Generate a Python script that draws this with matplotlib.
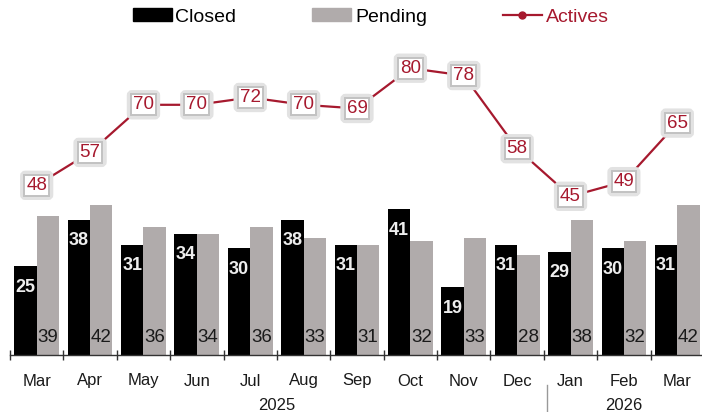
import matplotlib
matplotlib.use("Agg")
import matplotlib.pyplot as plt
from matplotlib.patches import Patch
from matplotlib.lines import Line2D
import numpy as np

plt.rcParams['font.family'] = ['Liberation Sans', 'DejaVu Sans']

months = ["Mar", "Apr", "May", "Jun", "Jul", "Aug", "Sep", "Oct", "Nov", "Dec", "Jan", "Feb", "Mar"]
years = ["2025", "2026"]
year_spans = [(0, 10), (10, 13)]
closed = [25, 38, 31, 34, 30, 38, 31, 41, 19, 31, 29, 30, 31]
pending = [39, 42, 36, 34, 36, 33, 31, 32, 33, 28, 38, 32, 42]
actives = [48, 57, 70, 70, 72, 70, 69, 80, 78, 58, 45, 49, 65]

C_CLOSED = "#000000"
C_PEND = "#B0ABAB"
C_ACT = "#A6192E"

W, H = 702, 412
fig = plt.figure(figsize=(W / 100, H / 100), dpi=100)
ax = fig.add_axes([10 / W, (H - 355) / H, 694 / W, 325 / H])
x = np.arange(len(months))
bw = 0.42
ax.bar(x - bw / 2, closed, bw, color=C_CLOSED, zorder=2)
ax.bar(x + bw / 2, pending, bw, color=C_PEND, zorder=2)
ax.set_xlim(-0.5, len(months) - 0.5)
ax.set_ylim(0, 325 / 3.56)

for i, (c, p) in enumerate(zip(closed, pending)):
    ax.annotate(str(c), (i - bw / 2, c), xytext=(0, -21), textcoords="offset pixels",
                ha="center", va="center", color="#EEEEEE", fontsize=13, fontweight="bold")
    ax.annotate(str(p), (i + bw / 2, 0), xytext=(0, 17), textcoords="offset pixels",
                ha="center", va="center", color="#1a1a1a", fontsize=13.5)

ax2 = ax.twinx()
ymin2 = (361 - 355) / 3.66
ax2.set_ylim(ymin2, ymin2 + 325 / 3.66)
ax2.plot(x, actives, color=C_ACT, lw=1.6, marker="o", ms=5, zorder=3)
for i, a in enumerate(actives):
    ax2.text(i, a, str(a), ha="center", va="center", color="none", fontsize=13.5, zorder=4,
             bbox=dict(boxstyle="round,pad=0.2,rounding_size=0.15", fc="white", ec="#E2E2E2", lw=3.5))
    ax2.text(i, a, str(a), ha="center", va="center", color=C_ACT, fontsize=13.5, zorder=5,
             bbox=dict(boxstyle="square,pad=0.1", fc="white", ec="#C2C2C2", lw=1.4))

for a in (ax, ax2):
    for s in ["top", "right", "left"]:
        a.spines[s].set_visible(False)
    a.set_yticks([])
ax2.spines["bottom"].set_visible(False)
ax.spines["bottom"].set_color("#333333")
ax.spines["bottom"].set_linewidth(1.0)
ax.set_xticks(np.arange(len(months) + 1) - 0.5)
ax.set_xticklabels([])
ax.tick_params(axis="x", direction="inout", length=7, width=1, color="#333333")

tr = ax.get_xaxis_transform()
for i, m in enumerate(months):
    ax.text(i, -26 / 325, m, transform=tr, ha="center", va="center", fontsize=12,
            color="#1a1a1a")
for yr, (s, e) in zip(years, year_spans):
    ax.text((s + e - 1) / 2, -50 / 325, yr, transform=tr, ha="center", va="center",
            fontsize=12, color="#1a1a1a")
ax.plot([9.55, 9.55], [-30 / 325, -57 / 325], transform=tr, color="#999999", lw=1, clip_on=False)

handles = [Patch(color=C_CLOSED), Patch(color=C_PEND),
           Line2D([0], [0], color=C_ACT, lw=1.6, marker="o", ms=5)]
leg = fig.legend(handles, ["Closed", "Pending", "Actives"], loc="center", bbox_to_anchor=(0.528, 1 - 17 / H),
                 ncol=3, frameon=False, fontsize=14, handlelength=2.0, handleheight=0.6,
                 columnspacing=3.9, handletextpad=0.2)
leg.get_texts()[2].set_color(C_ACT)

fig.savefig("out.png", dpi=100)
